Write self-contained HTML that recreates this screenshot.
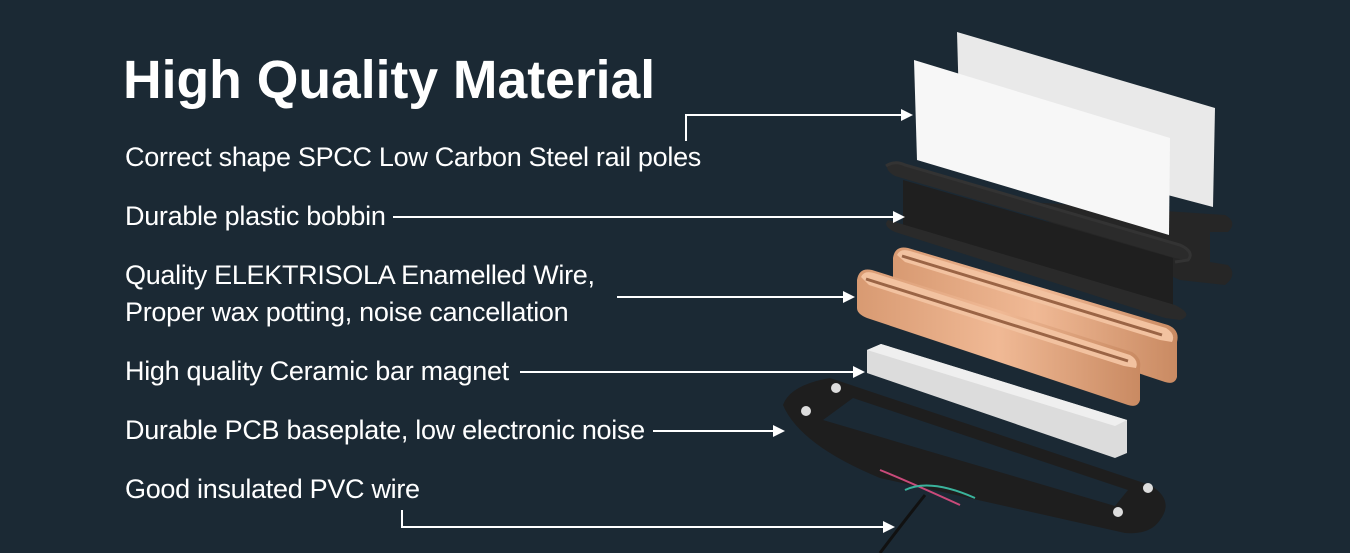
<!DOCTYPE html>
<html><head><meta charset="utf-8"><style>
html,body{margin:0;padding:0}
body{width:1350px;height:553px;overflow:hidden;background:#1b2934;position:relative;font-family:"Liberation Sans",sans-serif;color:#fff}
.t{position:absolute;white-space:nowrap}
h1{position:absolute;left:123px;top:50px;margin:0;font-size:53.5px;font-weight:bold}
.l{font-size:27px;letter-spacing:-0.3px}
svg{position:absolute;left:0;top:0}
</style></head><body>
<svg width="1350" height="553" viewBox="0 0 1350 553">
<defs>
<linearGradient id="cu" x1="0" x2="1"><stop offset="0" stop-color="#d89a72"/><stop offset=".5" stop-color="#f0b995"/><stop offset="1" stop-color="#c98a62"/></linearGradient>
<marker id="ah" markerWidth="12" markerHeight="12" refX="10" refY="6" orient="auto" markerUnits="userSpaceOnUse"><path d="M0,0 L12,6 L0,12 z" fill="#fff"/></marker>
</defs>
<polygon points="957,32 1215,108 1213,207 960,140" fill="#e9e9e9"/>
<path d="M1000,200 L1225,215 Q1238,222 1228,232 L1210,232 L1210,262 L1228,265 Q1238,275 1225,285 L1180,280 Z" fill="#262626"/>
<polygon points="914,60 1170,138 1169,235 917,160" fill="#f7f7f7"/>
<path d="M888,163 Q884,170 895,176 L1175,258 Q1192,262 1190,253 L1178,245 L910,165 Z" fill="#2b2b2b"/>
<polygon points="903,180 1173,258 1173,313 903,225" fill="#1f1f1f"/>
<path d="M888,220 L1175,305 Q1195,315 1180,320 L1165,318 L895,232 Q882,226 888,220 Z" fill="#2a2a2a"/>
<path d="M886,166 Q895,160 905,165 L1180,245 Q1195,252 1188,260 L1175,262" fill="none" stroke="#333" stroke-width="3"/>
<path d="M893,258 Q895,245 908,248 L1168,325 Q1180,330 1177,342 L1177,377 Q1175,385 1165,382 L905,296 Q893,292 893,285 Z" fill="url(#cu)"/>
<path d="M897,255 Q900,248 910,251 L1166,328 Q1176,334 1172,342 L1160,340 L905,262 Z" fill="#f2c2a0"/>
<path d="M902,256 L1162,335" stroke="#9a6445" stroke-width="3"/>
<path d="M857,280 Q859,267 872,270 L1132,352 Q1142,358 1140,368 L1140,400 Q1138,408 1128,405 L867,318 Q857,314 857,308 Z" fill="url(#cu)"/>
<path d="M861,277 Q864,270 874,273 L1130,355 Q1139,360 1136,368 L1124,366 L869,285 Z" fill="#f2c2a0"/>
<path d="M866,279 L1128,361" stroke="#9a6445" stroke-width="3"/>
<polygon points="867,350 881,344 1127,420 1127,453 1115,458 867,373" fill="#dcdcdc"/>
<polygon points="867,350 881,344 1127,420 1115,426" fill="#efefef"/>
<path d="M783,405 Q790,385 830,378 L1150,485 Q1175,500 1160,520 Q1150,535 1125,533 L880,478 Q800,445 783,405 Z" fill="#1e1e1e"/>
<path d="M823,420 L853,398 L1128,490 L1115,506 Z" fill="#1b2934"/>
<path d="M880,470 Q905,480 960,505" stroke="#c94a7a" stroke-width="2" fill="none"/>
<path d="M905,490 Q930,478 975,498" stroke="#3ab39c" stroke-width="2" fill="none"/>
<path d="M925,495 Q905,520 880,553" stroke="#111" stroke-width="3" fill="none"/>
<circle cx="836" cy="388" r="5" fill="#ddd"/><circle cx="806" cy="411" r="5" fill="#ddd"/>
<circle cx="1148" cy="488" r="5" fill="#ddd"/><circle cx="1118" cy="512" r="5" fill="#ddd"/>
<g stroke="#fff" stroke-width="2" fill="none" marker-end="url(#ah)">
<path d="M686,141 L686,115 L911,115"/>
<path d="M393,217 L903,217"/>
<path d="M617,297 L853,297"/>
<path d="M520,372 L863,372"/>
<path d="M653,431 L783,431"/>
<path d="M402,510 L402,527 L893,527"/>
</g>
</svg>
<h1>High Quality Material</h1>
<div class="t l" style="left:125px;top:142px">Correct shape SPCC Low Carbon Steel rail poles</div>
<div class="t l" style="left:125px;top:201px">Durable plastic bobbin</div>
<div class="t l" style="left:125px;top:260px">Quality ELEKTRISOLA Enamelled Wire,</div>
<div class="t l" style="left:125px;top:297px">Proper wax potting, noise cancellation</div>
<div class="t l" style="left:125px;top:356px">High quality Ceramic bar magnet</div>
<div class="t l" style="left:125px;top:415px">Durable PCB baseplate, low electronic noise</div>
<div class="t l" style="left:125px;top:474px">Good insulated PVC wire</div>
</body></html>
